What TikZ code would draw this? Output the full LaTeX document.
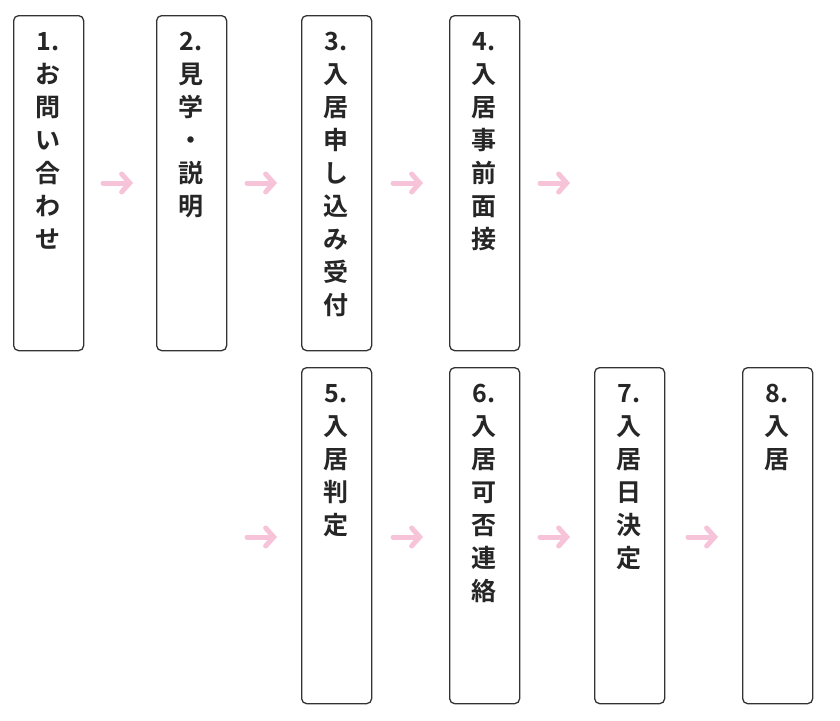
\documentclass[tikz,border=0pt]{standalone}
\usepackage{fontspec}
\newfontfamily\jp{Noto Sans CJK JP Bold}
\usetikzlibrary{arrows.meta}
\definecolor{pk}{HTML}{F6C3D8}
\begin{document}
\begin{tikzpicture}[x=1pt,y=-1pt,
 box/.style={draw=black!80,line width=1.3pt,rounded corners=5pt,minimum width=70pt,anchor=north west,inner sep=0pt},
 txt/.style={anchor=north,align=center,font=\jp\fontsize{25}{33}\selectfont,text=black!85},
 arr/.style={draw=pk,line width=5pt,line cap=round,-{Straight Barb[length=8pt,width=18pt,line cap=round]}}]
\useasboundingbox (0,0) rectangle (840,720);
\foreach \n/\x/\y/\h/\t in {a/13/15/335/{1.\\お\\問\\い\\合\\わ\\せ},b/156/15/335/{2.\\見\\学\\・\\説\\明},c/301/15/335/{3.\\入\\居\\申\\し\\込\\み\\受\\付},d/449/15/335/{4.\\入\\居\\事\\前\\面\\接},e/301/367/336/{5.\\入\\居\\判\\定},f/449/367/336/{6.\\入\\居\\可\\否\\連\\絡},g/594/367/336/{7.\\入\\居\\日\\決\\定},h/742/367/336/{8.\\入\\居}}{
 \node[box,minimum height=\h pt] (\n) at (\x,\y) {};
 \node[txt] (\n t) at (\x+35,\y+14) {\t};
}
\foreach \i/\x/\y in {1/103/183,2/247/183,3/393/183,4/540/183,5/247/537,6/393/537,7/540/537,8/688/537}{
 \coordinate (s\i) at (\x,\y); \coordinate (e\i) at (\x+30,\y);
 \draw[arr] (s\i) -- (e\i);
}
\end{tikzpicture}
\end{document}
